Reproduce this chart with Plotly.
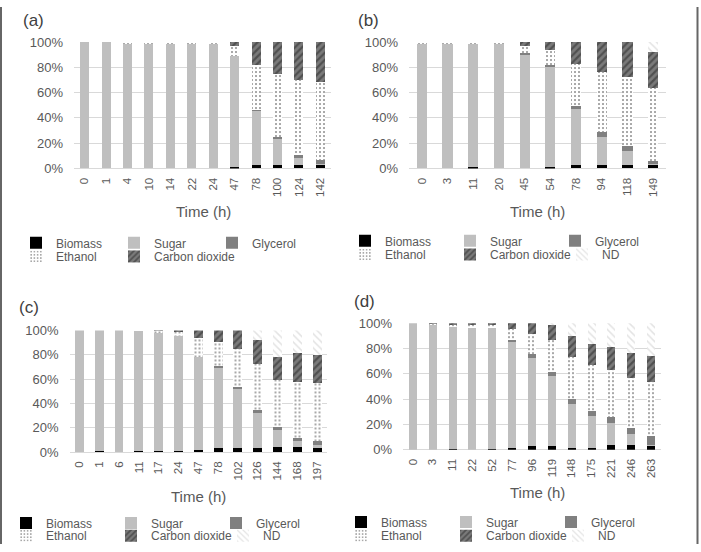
import plotly.graph_objects as go

W, H = 701, 552

# ---------------- data (percent of carbon) ----------------
series_names = ["Biomass", "Sugar", "Glycerol", "Ethanol", "Carbon dioxide", "ND"]

a_time = ["0", "1", "4", "10", "14", "22", "24", "47", "78", "100", "124", "142"]
a_biomass = [0, 0, 0, 0, 0, 0, 0, 1, 3, 3, 3, 3]
a_sugar = [100, 100, 99, 99, 99, 99, 98.5, 87.7, 43, 20, 5.5, 0.5]
a_glycerol = [0, 0, 0, 0, 0, 0, 0, 0, 0.3, 2, 2, 3]
a_ethanol = [0, 0, 1, 1, 1, 1, 1.5, 7.8, 35.2, 49.4, 59.5, 62]
a_co2 = [0, 0, 0, 0, 0, 0, 0, 3.5, 18.5, 25.6, 30, 31.5]

b_time = ["0", "3", "11", "20", "45", "54", "78", "94", "118", "149"]
b_biomass = [0, 0, 1, 0, 0, 1, 2.5, 3, 3, 3]
b_sugar = [99, 99, 98, 99, 90.5, 79.3, 44.5, 22, 11, 0.5]
b_glycerol = [0, 0, 0, 0, 0.5, 1.2, 2.5, 4, 3.4, 2.5]
b_ethanol = [1, 1, 1, 1, 6, 12.1, 33.3, 47.4, 54.6, 57.6]
b_co2 = [0, 0, 0, 0, 3, 6.4, 17.2, 23.6, 28, 28.7]
b_nd = [0, 0, 0, 0, 0, 0, 0, 0, 0, 7.7]

c_time = ["0", "1", "6", "11", "17", "24", "47", "78", "102", "126", "144", "168", "197"]
c_biomass = [0, 0.5, 0, 0.5, 0.5, 0.5, 1.5, 3, 3, 3.5, 4, 4, 3.5]
c_sugar = [100, 99.5, 100, 99, 97.5, 94.8, 76.5, 66.5, 49, 29, 14, 4.7, 2.5]
c_glycerol = [0, 0, 0, 0, 0, 0, 0.5, 1, 1.5, 2.3, 2.6, 3.2, 3.2]
c_ethanol = [0, 0, 0, 0.5, 1.5, 3.3, 15.3, 20.3, 31, 37.8, 38.7, 46.1, 47.4]
c_co2 = [0, 0, 0, 0, 0.5, 1.4, 6.2, 9.2, 15.5, 19.2, 19.2, 23.2, 23.6]
c_nd = [0, 0, 0, 0, 0, 0, 0, 0, 0, 8.2, 21.5, 18.8, 19.8]

d_time = ["0", "3", "11", "22", "52", "77", "96", "119", "148", "175", "221", "246", "263"]
d_biomass = [0, 0, 0.5, 0, 0.5, 1.5, 3, 3, 1.5, 1.5, 3.5, 4, 3.5]
d_sugar = [100, 98.5, 97, 96.5, 96, 84.1, 69.8, 55.2, 34.9, 24.7, 17.5, 8, 0.5]
d_glycerol = [0, 0, 0, 0, 0, 0.8, 2.8, 3.1, 3.3, 4.3, 4.6, 5.5, 6.8]
d_ethanol = [0, 1, 1.5, 2, 2, 9, 15.9, 25.1, 33.9, 36.2, 37.2, 38.9, 42.3]
d_co2 = [0, 0.5, 1, 1.5, 1.5, 4.6, 8.5, 12.3, 16.1, 17.1, 18.5, 19.8, 21.3]
d_nd = [0, 0, 0, 0, 0, 0, 0, 1.3, 10.3, 16.2, 18.7, 23.8, 25.6]

y_ticks = [0, 20, 40, 60, 80, 100]
y_tick_labels = ["0%", "20%", "40%", "60%", "80%", "100%"]

# ---------------- styles ----------------
TXT = "#595959"
FONT = "Liberation Sans, Arial, sans-serif"

styles = {
    "Biomass": dict(color="#000000"),
    "Sugar": dict(color="#bfbfbf"),
    "Glycerol": dict(color="#808080"),
    "Ethanol": dict(color="#ffffff",
                    pattern=dict(shape=".", fgcolor="#1a1a1a", bgcolor="#ffffff",
                                 size=4, solidity=0.2)),
    "Carbon dioxide": dict(color="#7a7a7a",
                           pattern=dict(shape="/", fgcolor="#262626", bgcolor="#7a7a7a",
                                        size=5, solidity=0.45)),
    "ND": dict(color="#ffffff",
               pattern=dict(shape="\\", fgcolor="#c8c8c8", bgcolor="#ffffff",
                            size=5, solidity=0.3)),
}

# panel layout in pixels
panels = [
    dict(key="a", time=a_time,
         vals=[a_biomass, a_sugar, a_glycerol, a_ethanol, a_co2],
         x0=74, x1=331, ytop=36, ybot=166, width=0.42,
         label_xy=(33, 14), title_xy=(203, 210),
         leg_x=16, leg_rows=(242, 256), leg_w=53, co2_w=85),
    dict(key="b", time=b_time,
         vals=[b_biomass, b_sugar, b_glycerol, b_ethanol, b_co2, b_nd],
         x0=409, x1=666, ytop=36, ybot=166, width=0.4,
         label_xy=(368, 14), title_xy=(537, 210),
         leg_x=345, leg_rows=(240, 254), leg_w=60, co2_w=67),
    dict(key="c", time=c_time,
         vals=[c_biomass, c_sugar, c_glycerol, c_ethanol, c_co2, c_nd],
         x0=69.5, x1=327, ytop=332.5, ybot=457.5, width=0.45,
         label_xy=(29, 309), title_xy=(198, 503),
         leg_x=6, leg_rows=(530, 543), leg_w=60, co2_w=67),
    dict(key="d", time=d_time,
         vals=[d_biomass, d_sugar, d_glycerol, d_ethanol, d_co2, d_nd],
         x0=403, x1=661, ytop=325, ybot=455, width=0.4,
         label_xy=(364, 303), title_xy=(537, 499),
         leg_x=341, leg_rows=(529, 543), leg_w=60, co2_w=67),
]

fig = go.Figure()
layout = dict(
    width=W, height=H,
    margin=dict(l=0, r=0, t=0, b=0),
    paper_bgcolor="white", plot_bgcolor="white",
    barmode="stack",
    font=dict(family=FONT, color=TXT, size=12),
    annotations=[], shapes=[],
)

leg_idx = 0
for i, p in enumerate(panels):
    n = i + 1
    xa = "x" if n == 1 else f"x{n}"
    ya = "y" if n == 1 else f"y{n}"
    legs = []
    for r in range(2):
        leg_idx += 1
        lname = "legend" if leg_idx == 1 else f"legend{leg_idx}"
        legs.append(lname)
        row_center = p["leg_rows"][r]
        layout[lname] = dict(
            orientation="h", x=p["leg_x"] / W, xanchor="left",
            y=1 - (row_center - 14.5) / H, yanchor="top",
            entrywidth=p["leg_w"], entrywidthmode="pixels",
            font=dict(size=12, color=TXT, family=FONT),
            bgcolor="rgba(0,0,0,0)", borderwidth=0, itemwidth=30,
            traceorder="normal",
        )
    for s, vals in enumerate(p["vals"]):
        name = series_names[s]
        st = styles[name]
        marker = dict(color=st["color"], line=dict(width=0))
        if "pattern" in st:
            marker["pattern"] = st["pattern"]
        extra = {}
        if name == "Carbon dioxide":
            extra["legendwidth"] = p["co2_w"]
        fig.add_trace(go.Bar(
            x=p["time"], y=vals, name=name, marker=marker,
            xaxis=xa, yaxis=ya, width=p["width"],
            legend=legs[0] if s < 3 else legs[1],
            showlegend=True, **extra,
        ))
    xkey = "xaxis" if n == 1 else f"xaxis{n}"
    ykey = "yaxis" if n == 1 else f"yaxis{n}"
    layout[xkey] = dict(
        domain=[p["x0"] / W, p["x1"] / W], anchor=ya, type="category",
        categoryorder="array", categoryarray=p["time"],
        tickangle=-90, showgrid=False, showline=False, ticks="",
        ticklabelstandoff=6,
        tickfont=dict(size=11.5, color=TXT, family=FONT),
    )
    layout[ykey] = dict(
        domain=[1 - p["ybot"] / H, 1 - p["ytop"] / H], anchor=xa,
        range=[0, 100], tickvals=y_ticks, ticktext=y_tick_labels,
        showgrid=True, gridcolor="#d9d9d9", gridwidth=1,
        zeroline=True, zerolinecolor="#d9d9d9", zerolinewidth=1,
        showline=False, ticks="", ticklabelstandoff=10,
        tickfont=dict(size=13, color=TXT, family=FONT),
    )
    lx, ly = p["label_xy"]
    layout["annotations"].append(dict(
        text=f"({p['key']})", x=lx / W, y=1 - ly / H, xref="paper", yref="paper",
        xanchor="center", yanchor="middle", showarrow=False,
        font=dict(size=17, color="#404040", family=FONT)))
    tx, ty = p["title_xy"]
    layout["annotations"].append(dict(
        text="Time (h)", x=tx / W, y=1 - ty / H, xref="paper", yref="paper",
        xanchor="center", yanchor="middle", showarrow=False,
        font=dict(size=15, color=TXT, family=FONT)))

# figure frame (left and right border lines)
for xpx in (1, 697.5):
    layout["shapes"].append(dict(
        type="line", xref="paper", yref="paper", x0=xpx / W, x1=xpx / W, y0=0, y1=1,
        line=dict(color="#666666", width=2)))

fig.update_layout(**layout)
fig.write_html("out.html")
